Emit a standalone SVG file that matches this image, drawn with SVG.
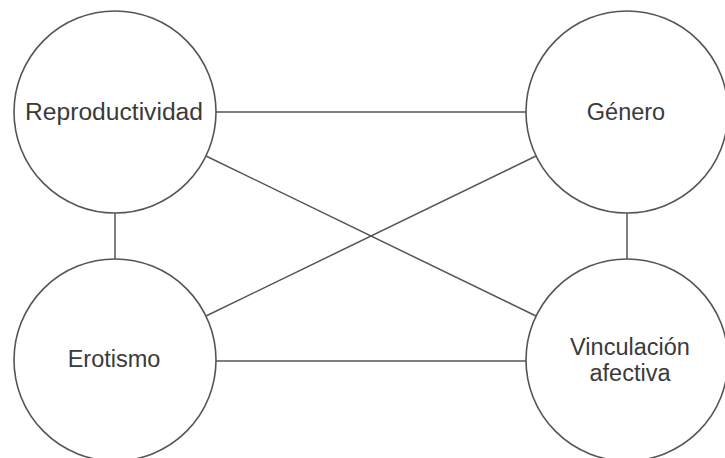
<svg xmlns="http://www.w3.org/2000/svg" width="725" height="458" viewBox="0 0 725 458">
<style>
.node circle{fill:#fff;stroke:#555;stroke-width:1.6}
.node text{font-family:"Liberation Sans",Arial,sans-serif;font-size:23.5px;fill:#3a3a3a;text-anchor:middle}
.conn line{stroke:#555;stroke-width:1.5}
</style>
<rect width="725" height="458" fill="#fff"/>
<g id="connectors" class="conn">
<line x1="216" y1="112" x2="526" y2="112"/>
<line x1="216" y1="361" x2="526" y2="361"/>
<line x1="115" y1="213" x2="115" y2="259"/>
<line x1="627" y1="213" x2="627" y2="259"/>
<line x1="206" y1="156" x2="536" y2="316"/>
<line x1="206" y1="316" x2="536" y2="156"/>
</g>
<g id="reproductividad" class="node">
<circle cx="115" cy="112" r="101"/>
<text x="114" y="120" textLength="178" lengthAdjust="spacingAndGlyphs">Reproductividad</text>
</g>
<g id="genero" class="node">
<circle cx="627" cy="112" r="101"/>
<text x="626" y="120">Género</text>
</g>
<g id="erotismo" class="node">
<circle cx="115" cy="360" r="101"/>
<text x="114" y="367">Erotismo</text>
</g>
<g id="vinculacion" class="node">
<circle cx="627" cy="360" r="101"/>
<text x="630" y="355">Vinculación</text>
<text x="630" y="381">afectiva</text>
</g>
</svg>
